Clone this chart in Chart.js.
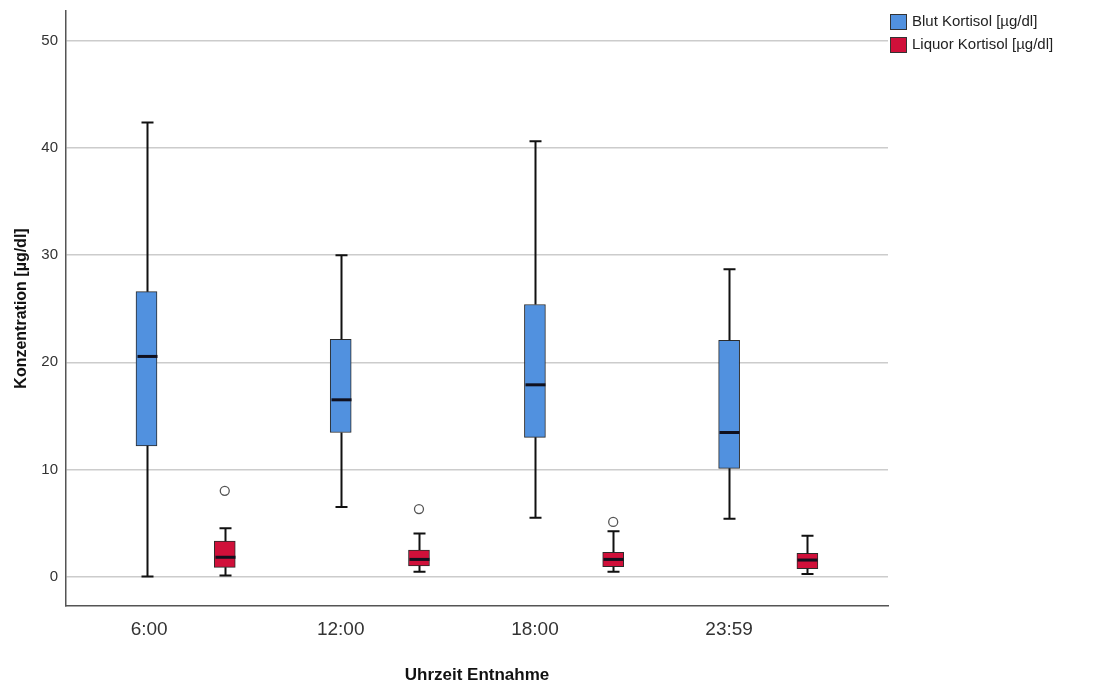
<!DOCTYPE html>
<html>
<head>
<meta charset="utf-8">
<script src="https://cdn.jsdelivr.net/npm/chart.js@4"></script>
<style>
  html, body { margin: 0; padding: 0; background: #fff; }
  #wrap { width: 1095px; height: 686px; }
</style>
</head>
<body>
<div id="wrap"><canvas id="canvas" width="1095" height="686"></canvas></div>
<script>
var times = ["6:00", "12:00", "18:00", "23:59"];
var seriesNames = ["Blut Kortisol [µg/dl]", "Liquor Kortisol [µg/dl]"];

// Blut Kortisol
var blutMin = [0.0, 6.5, 5.5, 5.4];
var blutQ1 = [12.2, 13.45, 13.0, 10.1];
var blutMedian = [20.55, 16.5, 17.9, 13.45];
var blutQ3 = [26.6, 22.15, 25.4, 22.05];
var blutMax = [42.4, 30.0, 40.65, 28.7];

// Liquor Kortisol
var liqMin = [0.1, 0.45, 0.45, 0.23];
var liqQ1 = [0.86, 1.0, 0.92, 0.73];
var liqMedian = [1.8, 1.6, 1.6, 1.54];
var liqQ3 = [3.3, 2.47, 2.26, 2.16];
var liqMax = [4.5, 4.03, 4.24, 3.8];
var liqOutliers = [8.0, 6.3, 5.1, null];

var yTicks = [0, 10, 20, 30, 40, 50];

var liqOffset = 0.403;
var font = "'Liberation Sans', Arial, sans-serif";

function boxes(q1, q3, off) {
	return q1.map(function(v, i) {
		return { x: i + off, y: [v, q3[i]] };
	});
}

var outlierPoints = [];
liqOutliers.forEach(function(v, i) {
	if (v !== null) outlierPoints.push({ x: i + liqOffset, y: v });
});

var stats = [
	{ min: blutMin, med: blutMedian, q1: blutQ1, q3: blutQ3, max: blutMax, off: 0 },
	{ min: liqMin, med: liqMedian, q1: liqQ1, q3: liqQ3, max: liqMax, off: liqOffset }
];

// whiskers + median lines
var boxExtras = {
	id: 'boxExtras',
	afterDatasetsDraw: function(chart) {
		var ctx = chart.ctx;
		var xs = chart.scales.x, ys = chart.scales.y;
		ctx.save();
		stats.forEach(function(s) {
			for (var i = 0; i < s.med.length; i++) {
				var cx = Math.round(xs.getPixelForValue(i + s.off)) + 0.5;
				ctx.strokeStyle = '#111';
				ctx.lineWidth = 2;
				ctx.beginPath();
				ctx.moveTo(cx, ys.getPixelForValue(s.q3[i]));
				ctx.lineTo(cx, ys.getPixelForValue(s.max[i]));
				ctx.moveTo(cx - 6, ys.getPixelForValue(s.max[i]));
				ctx.lineTo(cx + 6, ys.getPixelForValue(s.max[i]));
				ctx.moveTo(cx, ys.getPixelForValue(s.q1[i]));
				ctx.lineTo(cx, ys.getPixelForValue(s.min[i]));
				ctx.moveTo(cx - 6, ys.getPixelForValue(s.min[i]));
				ctx.lineTo(cx + 6, ys.getPixelForValue(s.min[i]));
				ctx.stroke();
				ctx.lineWidth = 3;
				ctx.strokeStyle = '#10101e';
				ctx.beginPath();
				ctx.moveTo(cx - 10, ys.getPixelForValue(s.med[i]));
				ctx.lineTo(cx + 10, ys.getPixelForValue(s.med[i]));
				ctx.stroke();
			}
		});
		ctx.restore();
	}
};

// legend in the top right corner
var sideLegend = {
	id: 'sideLegend',
	afterDraw: function(chart) {
		var ctx = chart.ctx;
		ctx.save();
		ctx.font = '15px ' + font;
		ctx.textBaseline = 'middle';
		chart.data.datasets.slice(0, 2).forEach(function(ds, i) {
			var y = 14 + i * 23;
			ctx.fillStyle = ds.backgroundColor;
			ctx.fillRect(890, y, 17, 16);
			ctx.strokeStyle = '#333';
			ctx.lineWidth = 1;
			ctx.strokeRect(890.5, y + 0.5, 16, 15);
			ctx.fillStyle = '#222';
			ctx.fillText(ds.label, 912, y + 8);
		});
		ctx.restore();
	}
};

var ctx = document.getElementById('canvas').getContext('2d');

var myChart = new Chart(ctx, {
  type: 'bar',
  data: {
	datasets: [{
	  label: seriesNames[0],
	  data: boxes(blutQ1, blutQ3, 0),
	  backgroundColor: "#5191df",
	  borderColor: "#2b2b2b",
	  borderWidth: 1,
	  borderSkipped: false,
	  barThickness: 21,
	  grouped: false
	}, {
	  label: seriesNames[1],
	  data: boxes(liqQ1, liqQ3, liqOffset),
	  backgroundColor: "#d0103a",
	  borderColor: "#2b2b2b",
	  borderWidth: 1,
	  borderSkipped: false,
	  barThickness: 21,
	  grouped: false
	}, {
	  type: 'scatter',
	  label: 'Ausreißer',
	  data: outlierPoints,
	  pointStyle: 'circle',
	  pointRadius: 4.5,
	  backgroundColor: '#fff',
	  borderColor: '#555',
	  borderWidth: 1.3
	}]
  },
  options: {
	responsive: false,
	animation: false,
	layout: {
	  padding: { top: 11, right: 207, left: 0, bottom: 0 }
	},
	plugins: {
	  legend: { display: false },
	  tooltip: { enabled: false }
	},
	scales: {
	  x: {
		type: 'linear',
		offset: false,
		min: -0.4145,
		max: 3.818,
		afterBuildTicks: function(scale) {
		  scale.ticks = times.map(function(t, i) { return { value: i }; });
		},
		afterFit: function(scale) {
		  scale.height = 80;
		  scale.paddingLeft = 0;
		  scale.paddingRight = 0;
		},
		ticks: {
		  // SPSS TIME5 format pads to 5 characters
		  callback: function(v) { return times[v].length < 5 ? ' ' + times[v] : times[v]; },
		  font: { family: font, size: 19 },
		  color: '#333',
		  padding: 12
		},
		grid: { display: false, drawTicks: false, offset: false },
		border: { display: true, color: '#555', width: 1.5 },
		title: {
		  display: true,
		  text: 'Uhrzeit Entnahme',
		  font: { family: font, size: 17, weight: 'bold' },
		  color: '#111',
		  padding: { top: 17, bottom: 0 }
		}
	  },
	  y: {
		min: -2.75,
		max: 52.8,
		afterBuildTicks: function(scale) {
		  scale.ticks = yTicks.map(function(v) { return { value: v }; });
		},
		afterFit: function(scale) {
		  scale.width = 66;
		  scale.paddingTop = 0;
		  scale.paddingBottom = 0;
		},
		ticks: {
		  font: { family: font, size: 15 },
		  color: '#333',
		  padding: 8
		},
		grid: { color: '#cccccc', lineWidth: 1.5, drawTicks: false },
		border: { display: true, color: '#555', width: 1.5 },
		title: {
		  display: true,
		  text: 'Konzentration [µg/dl]',
		  font: { family: font, size: 16, weight: 'bold' },
		  color: '#111',
		  padding: { top: 12, bottom: 0 }
		}
	  }
	}
  },
  plugins: [boxExtras, sideLegend]
});
</script>
</body>
</html>
